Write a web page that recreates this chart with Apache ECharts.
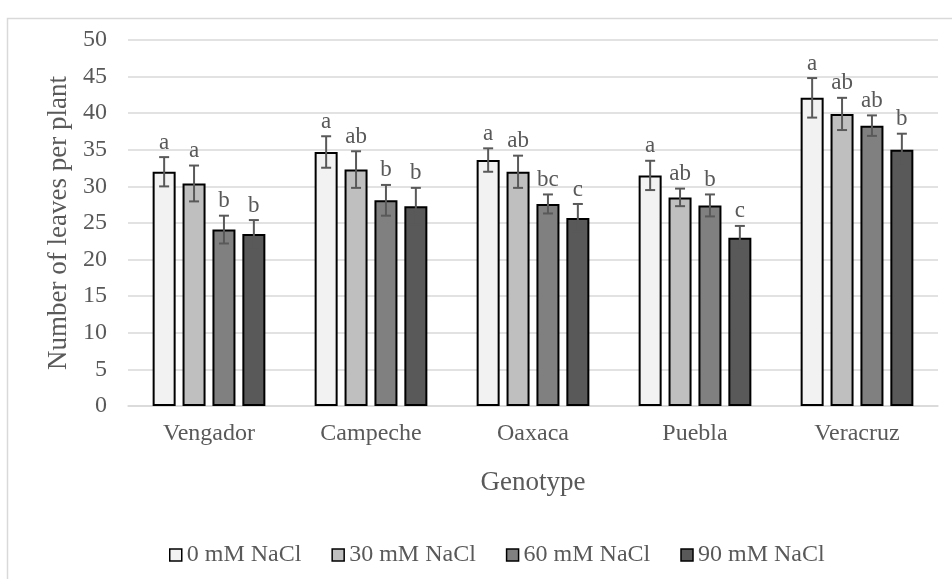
<!DOCTYPE html>
<html>
<head>
<meta charset="utf-8">
<script src="https://cdn.jsdelivr.net/npm/echarts@6/dist/echarts.min.js"></script>
<style>html,body{margin:0;padding:0;background:#fff;}#c{width:952px;height:579px;}</style>
</head>
<body>
<div id="c"></div>
<script>
const categories = ['Vengador', 'Campeche', 'Oaxaca', 'Puebla', 'Veracruz'];
const seriesNames = ['0 mM NaCl', '30 mM NaCl', '60 mM NaCl', '90 mM NaCl'];
const yTicks = { min: 0, max: 50, interval: 5 };

const values0  = [32.0, 34.7, 33.6, 31.5, 42.1];
const values30 = [30.4, 32.3, 32.0, 28.5, 39.9];
const values60 = [24.1, 28.1, 27.6, 27.4, 38.3];
const values90 = [23.5, 27.3, 25.7, 23.0, 35.0];

const err0  = [2.0, 2.15, 1.6, 2.0, 2.7];
const err30 = [2.45, 2.5, 2.2, 1.2, 2.2];
const err60 = [1.9, 2.1, 1.3, 1.5, 1.4];
const err90 = [1.9, 2.5, 1.9, 1.6, 2.2];

const letters0  = ['a', 'a', 'a', 'a', 'a'];
const letters30 = ['a', 'ab', 'ab', 'ab', 'ab'];
const letters60 = ['b', 'b', 'bc', 'b', 'ab'];
const letters90 = ['b', 'b', 'c', 'c', 'b'];

const allValues = [values0, values30, values60, values90];
const allErr = [err0, err30, err60, err90];
const allLetters = [letters0, letters30, letters60, letters90];
const colors = ['#f2f2f2', '#bfbfbf', '#808080', '#595959'];

const FONT = "'Liberation Serif', 'Times New Roman', serif";
const TEXT = '#595959';
const BAR_W = 0.142;
const BAR_GAP = 0.3;

const chart = echarts.init(document.getElementById('c'));

const barSeries = seriesNames.map((name, i) => ({
  name: name,
  type: 'bar',
  data: allValues[i],
  barWidth: (BAR_W * 100) + '%',
  barGap: (BAR_GAP * 100) + '%',
  itemStyle: { color: colors[i], borderColor: '#000', borderWidth: 2 },
  emphasis: { disabled: true },
  z: 2
}));

const errSeries = seriesNames.map((name, i) => ({
  name: 'err_' + i,
  type: 'custom',
  z: 5,
  silent: true,
  data: categories.map((c, j) => [j, allValues[i][j]]),
  renderItem: function (params, api) {
    const j = api.value(0);
    const v = api.value(1);
    const e = allErr[i][j];
    const c = api.coord([j, v]);
    const band = api.size([1, 0])[0];
    const bw = band * BAR_W;
    const gap = bw * BAR_GAP;
    const total = 4 * bw + 3 * gap;
    const x = c[0] - total / 2 + bw / 2 + i * (bw + gap);
    const yt = api.coord([j, v + e])[1];
    const yb = api.coord([j, v - e])[1];
    const cap = 5;
    const ls = { stroke: '#595959', lineWidth: 2 };
    return {
      type: 'group',
      children: [
        { type: 'line', shape: { x1: x, y1: yt, x2: x, y2: yb }, style: ls },
        { type: 'line', shape: { x1: x - cap, y1: yt, x2: x + cap, y2: yt }, style: ls },
        { type: 'line', shape: { x1: x - cap, y1: yb, x2: x + cap, y2: yb }, style: ls },
        { type: 'text', style: { text: allLetters[i][j], x: x, y: yt - 3, align: 'center', verticalAlign: 'bottom', fill: TEXT, fontSize: 23, fontFamily: FONT } }
      ]
    };
  }
}));

chart.setOption({
  animation: false,
  backgroundColor: '#fff',
  textStyle: { fontFamily: FONT },
  graphic: [{
    type: 'rect',
    shape: { x: 7.5, y: 18.5, width: 2000, height: 2000 },
    style: { fill: 'none', stroke: '#d9d9d9', lineWidth: 1.5 },
    silent: true
  }],
  grid: { left: 128, right: 14, top: 40, bottom: 173 },
  legend: {
    data: seriesNames,
    left: 164,
    top: 538,
    itemWidth: 12,
    itemHeight: 12,
    itemGap: 30,
    icon: 'rect',
    textStyle: { color: TEXT, fontSize: 24, fontFamily: FONT },
    itemStyle: { borderColor: '#000', borderWidth: 1.5 }
  },
  xAxis: {
    type: 'category',
    data: categories,
    name: 'Genotype',
    nameLocation: 'middle',
    nameGap: 63,
    nameTextStyle: { color: TEXT, fontSize: 27, fontFamily: FONT },
    axisLine: { lineStyle: { color: '#d9d9d9', width: 1.5 } },
    axisTick: { show: false },
    axisLabel: { color: TEXT, fontSize: 24, fontFamily: FONT, margin: 16 }
  },
  yAxis: {
    type: 'value',
    min: yTicks.min,
    max: yTicks.max,
    interval: yTicks.interval,
    name: 'Number of leaves per plant',
    nameLocation: 'middle',
    nameGap: 52,
    nameTextStyle: { color: TEXT, fontSize: 27, fontFamily: FONT },
    axisLine: { show: false },
    axisTick: { show: false },
    axisLabel: { color: TEXT, fontSize: 24, fontFamily: FONT, margin: 21 },
    splitLine: { lineStyle: { color: '#d9d9d9', width: 1.5 } }
  },
  series: barSeries.concat(errSeries)
});
</script>
</body>
</html>
